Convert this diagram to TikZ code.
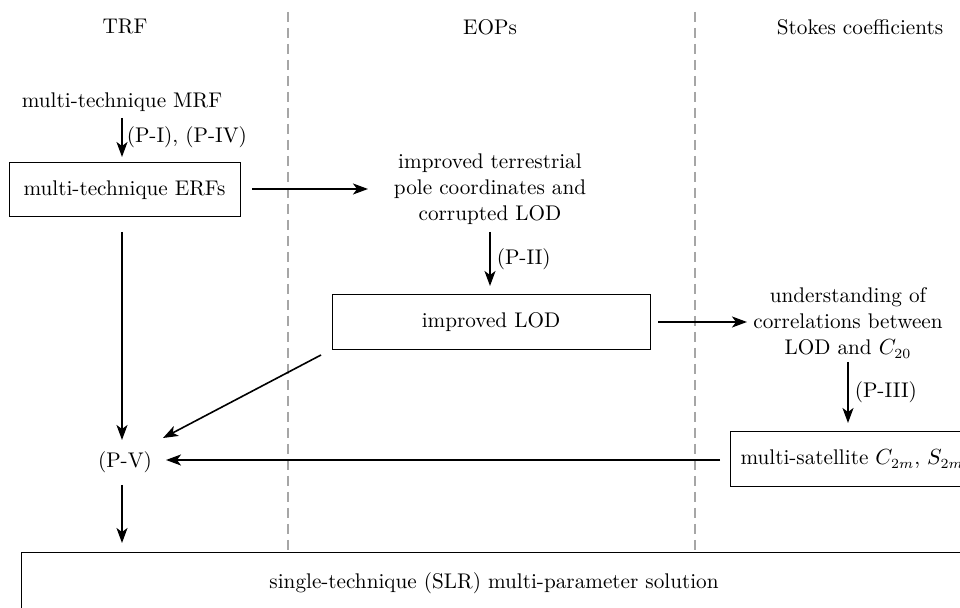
\documentclass[tikz,border=0pt]{standalone}
\usetikzlibrary{arrows.meta}
\begin{document}
\begin{tikzpicture}[x=0.5pt,y=-0.5pt,
  every node/.style={font=\fontsize{10.6}{13}\selectfont},
  boxnode/.style={draw,line width=0.5pt,inner sep=0pt},
  txt/.style={align=center,inner sep=1pt},
  conn/.style={line width=0.8pt,-{Stealth[length=7.5pt,width=5.5pt,inset=2pt]}},
  sep/.style={gray!70,line width=0.6pt,dash pattern=on 5pt off 3pt}]
\clip (0,0) rectangle (960,608);
\fill[white] (0,0) rectangle (960,608);
% separators
\draw[sep] (288,12) -- (288,552);
\draw[sep] (695,12) -- (695,552);
% headers
\node (hTRF) at (125,27) {TRF};
\node (hEOP) at (490,27) {EOPs};
\node (hSC) at (860,27) {Stokes coefficients};
% nodes
\node[txt] (mrf) at (122,102) {multi-technique MRF};
\node[boxnode,minimum width=115.5pt,minimum height=27pt] (erf) at (124.5,190) {multi-technique ERFs};
\node[txt] (pole) at (490,189) {improved terrestrial\\pole coordinates and\\corrupted LOD};
\node[boxnode,minimum width=159pt,minimum height=27.5pt] (lod) at (491,322.5) {improved LOD};
\node[txt] (corr) at (848,323) {understanding of\\correlations between\\LOD and $C_{20}$};
\node[boxnode,minimum height=27.5pt,anchor=west,text width=140pt,align=left] (sat) at (730,459.5) {\hspace*{5pt}multi-satellite $C_{2m}$, $S_{2m}$};
\node[txt] (pv) at (125,462) {(P-V)};
\node[boxnode,minimum height=31pt,anchor=north west,text width=520pt,align=left] (sol) at (21,552) {\hspace*{124pt}single-technique (SLR) multi-parameter solution};
% coordinates for connectors
\coordinate (a1s) at (122,118);
\coordinate (a1e) at (122,157);
\coordinate (a2s) at (122,232);
\coordinate (a2e) at (122,440);
\coordinate (a3s) at (122,485);
\coordinate (a3e) at (122,543);
\coordinate (b1s) at (252,189);
\coordinate (b1e) at (368,189);
\coordinate (b2s) at (490,232);
\coordinate (b2e) at (490,286);
\coordinate (c1s) at (658,322);
\coordinate (c1e) at (747,322);
\coordinate (c2s) at (848,362);
\coordinate (c2e) at (848,423);
\coordinate (d1s) at (720,460);
\coordinate (d1e) at (166,460);
\coordinate (e1s) at (321,355);
\coordinate (e1e) at (163,438);
% connectors
\draw[conn] (a1s) -- node[right,inner sep=2pt] {(P-I), (P-IV)} (a1e);
\draw[conn] (a2s) -- (a2e);
\draw[conn] (a3s) -- (a3e);
\draw[conn] (b1s) -- (b1e);
\draw[conn] (b2s) -- node[right,inner sep=3pt] {(P-II)} (b2e);
\draw[conn] (c1s) -- (c1e);
\draw[conn] (c2s) -- node[right,inner sep=3pt] {(P-III)} (c2e);
\draw[conn] (d1s) -- (d1e);
\draw[conn] (e1s) -- (e1e);
\end{tikzpicture}
\end{document}
